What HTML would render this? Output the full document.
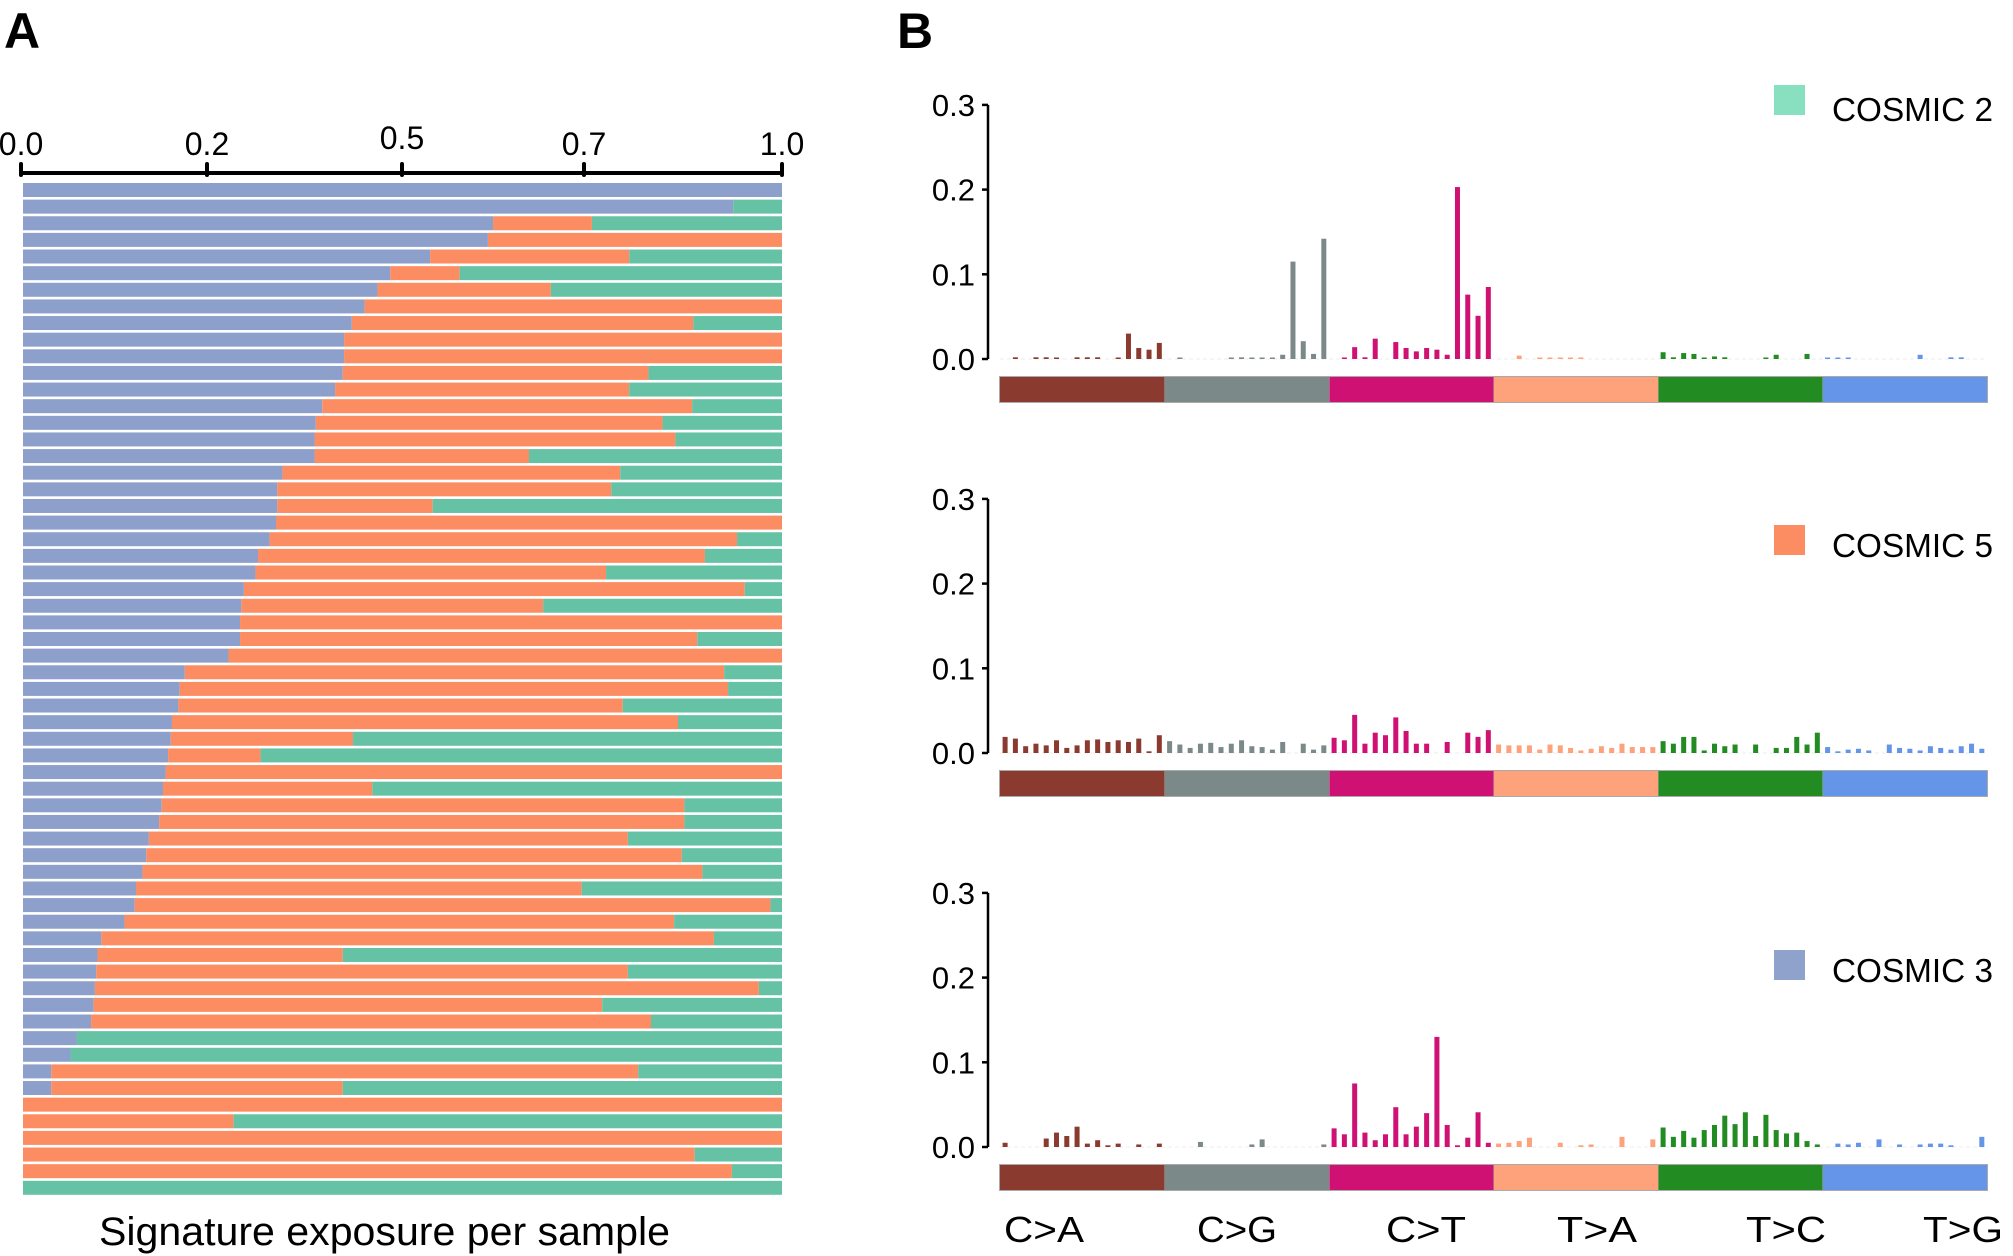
<!DOCTYPE html>
<html><head><meta charset="utf-8"><style>
html,body{margin:0;padding:0;background:#fff;}
svg{display:block;font-family:"Liberation Sans",Arial,sans-serif;}
</style></head><body>
<svg id="s" width="2013" height="1256" viewBox="0 0 2013 1256" xmlns="http://www.w3.org/2000/svg">
<rect width="2013" height="1256" fill="#fff"/>
<text x="4" y="48" font-size="50" font-weight="bold">A</text>
<text x="897" y="48" font-size="50" font-weight="bold">B</text>
<g id="a"></g>
<g id="b"></g>
<text x="99" y="1245" font-size="40" textLength="571" lengthAdjust="spacingAndGlyphs">Signature exposure per sample</text>
<g font-size="36">
<text x="1004" y="1242" textLength="80" lengthAdjust="spacingAndGlyphs">C&gt;A</text>
<text x="1197" y="1242" textLength="80" lengthAdjust="spacingAndGlyphs">C&gt;G</text>
<text x="1386" y="1242" textLength="80" lengthAdjust="spacingAndGlyphs">C&gt;T</text>
<text x="1557" y="1242" textLength="80" lengthAdjust="spacingAndGlyphs">T&gt;A</text>
<text x="1746" y="1242" textLength="80" lengthAdjust="spacingAndGlyphs">T&gt;C</text>
<text x="1923" y="1242" textLength="80" lengthAdjust="spacingAndGlyphs">T&gt;G</text>
</g>
</svg>
<script>
(function(){
var ns="http://www.w3.org/2000/svg";
function el(p,t,a,txt){var e=document.createElementNS(ns,t);for(var k in a)e.setAttribute(k,a[k]);if(txt!==undefined)e.textContent=txt;p.appendChild(e);return e;}
var A=document.getElementById('a');
el(A,'line',{x1:21,y1:173,x2:784,y2:173,stroke:'#000','stroke-width':4});
var ticks=[[21,'0.0',155],[207,'0.2',155],[402,'0.5',149],[584,'0.7',155],[782,'1.0',155]];
ticks.forEach(function(t){el(A,'line',{x1:t[0],y1:164,x2:t[0],y2:175,stroke:'#000','stroke-width':4,'stroke-linecap':'round'});
el(A,'text',{x:t[0],y:t[2],'font-size':32,'text-anchor':'middle'},t[1]);});
var rows=[[609,609],[571,571],[384,461],[380,609],[335,490],[304,358],[294,429],[284,609],[274,540],[268,609],[268,609],[267,505],[261,490],[251,539],[246,516],[245,526],[245,412],[220,483],[216,476],[216,337],[215,609],[210,574],[201,549],[199,472],[190,580],[188,423],[187,609],[187,543],[178,609],[144,564],[140,567],[139,485],[134,528],[133,275],[131,203],[129,609],[127,290],[126,533],[124,533],[116,489],[114,531],[111,547],[106,453],[105,600],[97,525],[79,556],[76,267],[75,489],[74,591],[73,469],[71,507],[60,60],[55,55],[40,497],[40,267],[18,609],[18,182],[18,609],[18,541],[18,570],[18,18]];
var L=23,W=759;
function fx(v){return L+(v-18)/591*W;}
rows.forEach(function(r,i){var y=183+i*16.63,h=14;
var b=fx(r[0]),o=fx(r[1]);
if(b>L)el(A,'rect',{x:L,y:y,width:b-L,height:h,fill:'#8da0cb'});
if(o>b)el(A,'rect',{x:b,y:y,width:o-b,height:h,fill:'#fc8d62'});
if(L+W>o)el(A,'rect',{x:o,y:y,width:L+W-o,height:h,fill:'#66c2a5'});
});
var B=document.getElementById('b');
function arr(m){var a=[];for(var i=0;i<96;i++)a.push(m[i]||0);return a;}
var p1=arr({1:.002,3:.002,4:.002,5:.001,7:.002,8:.002,9:.002,11:.001,12:.030,13:.013,14:.011,15:.019,
17:.001,22:.001,23:.002,24:.001,25:.001,26:.0005,27:.005,28:.115,29:.021,30:.006,31:.142,
33:.001,34:.014,35:.002,36:.024,38:.020,39:.013,40:.009,41:.013,42:.011,43:.005,44:.203,45:.076,46:.051,47:.085,
50:.004,52:.001,53:.001,54:.001,55:.001,56:.001,
64:.008,65:.002,66:.007,67:.006,68:.001,69:.003,70:.002,74:.001,75:.005,78:.006,
80:.001,81:.001,82:.001,89:.005,92:.002,93:.002});
var p2=[.019,.017,.008,.011,.009,.015,.006,.009,.015,.016,.013,.015,.013,.017,.002,.021,
.014,.010,.006,.011,.012,.007,.011,.015,.008,.007,.004,.013,0,.011,.004,.009,
.018,.015,.045,.011,.024,.021,.042,.026,.011,.011,0,.013,0,.024,.019,.027,
.010,.009,.009,.009,.004,.010,.009,.006,.003,.005,.008,.006,.011,.007,.007,.007,
.014,.011,.019,.019,.003,.011,.008,.010,0,.010,0,.006,.006,.019,.010,.024,
.007,.002,.004,.005,.003,0,.010,.006,.005,.003,.008,.006,.004,.008,.011,.005];
var p3=arr({0:.005,4:.010,5:.017,6:.013,7:.024,8:.004,9:.008,10:.002,11:.004,13:.003,15:.004,
19:.006,24:.003,25:.009,31:.003,
32:.022,33:.015,34:.075,35:.017,36:.008,37:.015,38:.047,39:.015,40:.024,41:.040,42:.130,43:.026,44:.002,45:.011,46:.041,47:.005,
48:.004,49:.005,50:.007,51:.011,54:.005,56:.002,57:.003,60:.012,63:.009,
64:.023,65:.012,66:.019,67:.011,68:.020,69:.026,70:.037,71:.027,72:.041,73:.013,74:.038,75:.020,76:.016,77:.017,78:.007,79:.003,
81:.004,82:.003,83:.005,85:.009,87:.003,89:.003,90:.004,91:.004,92:.002,95:.012});
var cols=['#8b3a2f','#7b8a89','#cf1173','#fea27b','#228b22','#6495e8'];
var lg=[['COSMIC 2','#88e0c1',85,121],['COSMIC 5','#fc8d62',525,557],['COSMIC 3','#8fa2cc',950,982]];
var data=[p1,p2,p3];
var X0=1000,X1=1987,SW=(X1-X0)/96;
[359,753,1147].forEach(function(base,k){
var u=84.7;
el(B,'line',{x1:988,y1:base-3*u,x2:988,y2:base,stroke:'#000','stroke-width':2.5});
for(var t=0;t<4;t++){var y=base-t*u;
el(B,'line',{x1:982,y1:y,x2:988,y2:y,stroke:'#000','stroke-width':2.5});
el(B,'text',{x:975,y:y+11,'font-size':31,'text-anchor':'end'},'0.'+t);}
el(B,'line',{x1:X0,y1:base,x2:X1,y2:base,stroke:'#eee','stroke-width':1,'stroke-dasharray':'4 3'});
data[k].forEach(function(v,i){if(v<=0)return;var h=Math.max(v*u*10,1.5);
el(B,'rect',{x:X0+i*SW+2.6,y:base-h,width:5,height:h,fill:cols[Math.floor(i/16)]});});
var cy=base+18;
el(B,'rect',{x:X0-1,y:cy-1,width:X1-X0+2,height:27,fill:'#aaa'});
for(var s=0;s<6;s++)el(B,'rect',{x:X0+s*(X1-X0)/6+(s?0.5:0),y:cy,width:(X1-X0)/6-(s?0.5:0),height:25,fill:cols[s]});
var g=lg[k];
el(B,'rect',{x:1774,y:g[2],width:31,height:30,fill:g[1]});
el(B,'text',{x:1832,y:g[3],'font-size':33,textLength:161,lengthAdjust:'spacingAndGlyphs'},g[0]);
});
})();
</script>
</body></html>
